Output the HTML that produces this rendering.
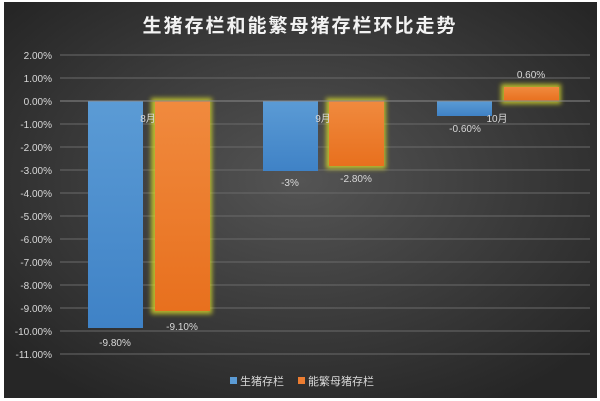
<!DOCTYPE html>
<html><head><meta charset="utf-8"><style>
body{margin:0;width:600px;height:401px;background:#fff;overflow:hidden;font-family:"Liberation Sans","Noto Sans CJK SC",sans-serif}
</style></head><body>
<svg width="600" height="401" style="position:absolute;left:0;top:0">
<defs>
<radialGradient id="bg" cx="50%" cy="45%" r="65%">
<stop offset="0" stop-color="#545454"/><stop offset="1" stop-color="#262626"/>
</radialGradient>
<linearGradient id="bl" x1="0" y1="0" x2="0" y2="1"><stop offset="0" stop-color="#5b9bd5"/><stop offset="1" stop-color="#3f82c6"/></linearGradient>
<linearGradient id="or" x1="0" y1="0" x2="0" y2="1"><stop offset="0" stop-color="#f08a3e"/><stop offset="1" stop-color="#e8701e"/></linearGradient>
<filter id="gl" x="-30%" y="-30%" width="160%" height="160%"><feGaussianBlur stdDeviation="2.5"/></filter>
</defs>
<rect x="4" y="2" width="593" height="396" fill="url(#bg)"/>
<text x="300" y="32" fill="#f2f2f2" font-size="19" font-weight="bold" text-anchor="middle" letter-spacing="2">生猪存栏和能繁母猪存栏环比走势</text>
<g stroke="#6a6a6a" stroke-width="1">
<line x1="60" x2="590" y1="55" y2="55"/><line x1="60" x2="590" y1="78" y2="78"/>
<line x1="60" x2="590" y1="124" y2="124"/><line x1="60" x2="590" y1="147" y2="147"/>
<line x1="60" x2="590" y1="170" y2="170"/><line x1="60" x2="590" y1="193" y2="193"/>
<line x1="60" x2="590" y1="216" y2="216"/><line x1="60" x2="590" y1="239" y2="239"/>
<line x1="60" x2="590" y1="262" y2="262"/><line x1="60" x2="590" y1="285" y2="285"/>
<line x1="60" x2="590" y1="308" y2="308"/><line x1="60" x2="590" y1="331" y2="331"/>
<line x1="60" x2="590" y1="354" y2="354"/>
</g>
<g fill="#d8d8d8" font-size="10" text-anchor="end">
<text x="52" y="59">2.00%</text><text x="52" y="82">1.00%</text><text x="52" y="105">0.00%</text>
<text x="52" y="128">-1.00%</text><text x="52" y="151">-2.00%</text><text x="52" y="174">-3.00%</text>
<text x="52" y="197">-4.00%</text><text x="52" y="220">-5.00%</text><text x="52" y="243">-6.00%</text>
<text x="52" y="266">-7.00%</text><text x="52" y="289">-8.00%</text><text x="52" y="312">-9.00%</text>
<text x="52" y="335">-10.00%</text><text x="52" y="358">-11.00%</text>
</g>
<g fill="#d4d72a" opacity="0.8" filter="url(#gl)">
<rect x="151" y="98" width="61" height="216"/>
<rect x="326" y="98" width="60" height="71"/>
<rect x="501" y="84" width="60" height="20"/>
</g>
<rect x="88" y="101" width="55" height="227" fill="url(#bl)"/>
<rect x="155" y="101" width="55" height="210" fill="url(#or)"/>
<rect x="263" y="101" width="55" height="70" fill="url(#bl)"/>
<rect x="329" y="101" width="55" height="65" fill="url(#or)"/>
<rect x="437" y="101" width="55" height="15" fill="url(#bl)"/>
<rect x="504" y="87" width="55" height="14" fill="url(#or)"/>
<line x1="60" x2="590" y1="101" y2="101" stroke="#8a8a8a"/>
<g fill="#d8d8d8" font-size="10" text-anchor="middle">
<text x="148" y="122">8月</text><text x="323" y="122">9月</text><text x="497" y="122">10月</text>
<text x="115" y="346">-9.80%</text><text x="182" y="330">-9.10%</text>
<text x="290" y="186">-3%</text><text x="356" y="182">-2.80%</text>
<text x="465" y="132">-0.60%</text><text x="531" y="78">0.60%</text>
</g>
<rect x="230" y="377" width="7" height="7" fill="#5b9bd5"/>
<text x="240" y="385" fill="#d8d8d8" font-size="11">生猪存栏</text>
<rect x="298" y="377" width="7" height="7" fill="#ed7d31"/>
<text x="308" y="385" fill="#d8d8d8" font-size="11">能繁母猪存栏</text>
</svg>
</body></html>
